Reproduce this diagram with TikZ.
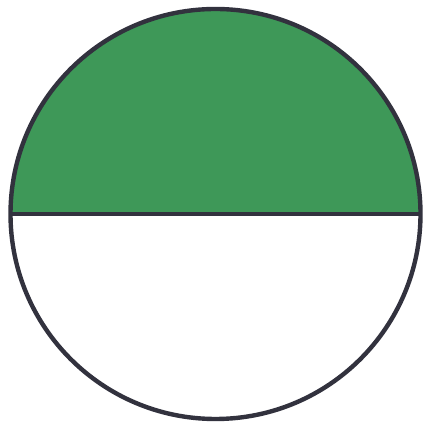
\documentclass[tikz,border=0pt]{standalone}
\definecolor{halfgreen}{RGB}{62,152,88}
\definecolor{rimgray}{RGB}{50,50,62}
\begin{document}
\begin{tikzpicture}[x=1pt,y=1pt,
  rim/.style={draw=rimgray,line width=4.4pt},
  divider/.style={draw=rimgray,line width=3.4pt}]
\useasboundingbox (0,0) rectangle (438,427);
\coordinate (c) at (215.5,213);
\coordinate (w) at (10.5,213);
\coordinate (e) at (420.5,213);
\fill[halfgreen] (w) arc[start angle=180,end angle=0,radius=205] -- cycle;
\draw[divider] (w) -- (e);
\draw[rim] (c) circle[radius=205];
\end{tikzpicture}
\end{document}
